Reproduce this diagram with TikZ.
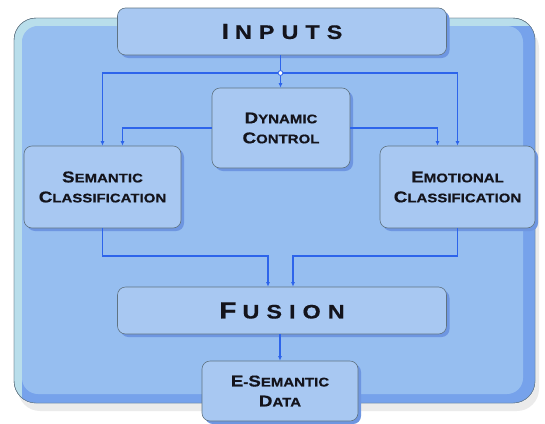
\documentclass[tikz,border=0pt]{standalone}
\usepackage{fontspec}
\newfontfamily\copperfont[FakeStretch=1.2,FakeBold=0.6]{Liberation Sans}
\usetikzlibrary{arrows.meta}
\usetikzlibrary{shadows}

\definecolor{panelblue}{RGB}{150,190,240}
\definecolor{paneldark}{RGB}{118,162,235}
\definecolor{panelrim}{RGB}{185,222,235}
\definecolor{boxblue}{RGB}{168,200,242}
\definecolor{boxedge}{RGB}{95,115,130}
\definecolor{boxshade}{RGB}{110,150,225}
\definecolor{flowblue}{RGB}{45,100,235}
\definecolor{inktext}{RGB}{20,20,28}

\newcommand\initcap[2][1.25]{\scalebox{#1}{#2}}

\tikzset{
  box/.style={draw=boxedge, line width=0.6pt, fill=boxblue, rounded corners=8pt,
    text=inktext, align=center, inner sep=0pt,
    font=\copperfont\bfseries\fontsize{12.5}{20}\selectfont,
    drop shadow={shadow xshift=3pt, shadow yshift=-3pt, fill=boxshade, opacity=1}},
  bigbox/.style={box,
    font=\copperfont\bfseries\fontsize{19.5}{20}\selectfont\addfontfeature{LetterSpace=36}},
  flow/.style={draw=flowblue, line width=1.8pt, -{Latex[length=4.5pt,width=4pt]}},
}

\begin{document}
\begin{tikzpicture}[x=1pt,y=-1pt]
  \useasboundingbox (0,0) rectangle (545,423);
  % panel
  \fill[black!8, rounded corners=22pt] (18,26) rectangle (539,411);
  \draw[boxedge, fill=panelrim, rounded corners=22pt] (14,18) rectangle (535,403);
  \begin{scope}
    \clip[rounded corners=22pt] (14,18) rectangle (535,403);
    \fill[paneldark, rounded corners=18pt] (22,26) rectangle (560,430);
  \end{scope}
  \fill[panelblue, rounded corners=16pt] (22,26) rectangle (523,394);
  \draw[boxedge, rounded corners=22pt] (14,18) rectangle (535,403);

  % boxes
  \node[bigbox, minimum width=329pt, minimum height=47pt] (inputs) at (282,31.5) {\initcap[1.12]{I}\hspace{6pt}NPUTS};
  \node[box, minimum width=138pt, minimum height=80pt] (dyn) at (281,128) {\initcap{D}YNAMIC\\\initcap{C}ONTROL};
  \node[box, minimum width=157pt, minimum height=82pt] (sem) at (102.5,187) {\initcap{S}EMANTIC\\\initcap{C}LASSIFICATION};
  \node[box, minimum width=155pt, minimum height=82pt] (emo) at (457.5,187) {\initcap{E}MOTIONAL\\\initcap{C}LASSIFICATION};
  \node[bigbox, minimum width=329pt, minimum height=47pt] (fusion) at (282,310.5) {\initcap[1.2]{F}\hspace{6pt}USION};
  \node[box, minimum width=156pt, minimum height=60pt] (esem) at (280,391) {\initcap{E}-\initcap{S}EMANTIC\\\initcap{D}ATA};

  % connectors
  \coordinate (split) at (280.5,73);
  \coordinate (lmerge) at (268,256);
  \coordinate (rmerge) at (293,256);
  \draw[flow] (inputs.south -| split) -- (split) -- (dyn.north -| split);
  \draw[flow] (split) -| (sem.north);
  \draw[flow] (split) -| (emo.north);
  \draw[flow] (dyn.west) -| ([xshift=20pt]sem.north);
  \draw[flow] (dyn.east) -| ([xshift=-20pt]emo.north);
  \draw[flow] (sem.south) |- (lmerge) -- (lmerge |- fusion.north);
  \draw[flow] (emo.south) |- (rmerge) -- (rmerge |- fusion.north);
  \draw[flow] (fusion.south -| esem.north) -- (esem.north);
  \draw[flowblue, fill=white, line width=0.8pt] (split) circle (2.4pt);
\end{tikzpicture}
\end{document}
